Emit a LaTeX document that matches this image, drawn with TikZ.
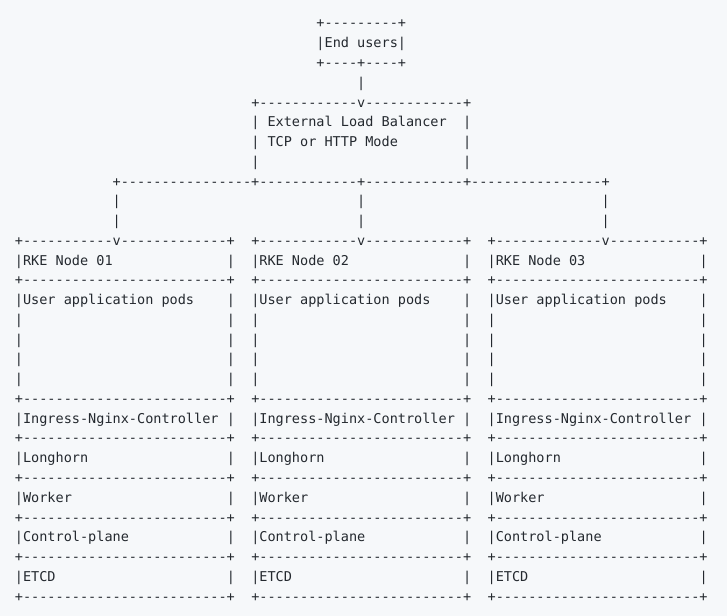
\documentclass[tikz,border=0pt]{standalone}
\usepackage{fontspec}
\setmonofont{DejaVu Sans Mono}

\definecolor{bgcol}{HTML}{F6F8FA}
\definecolor{txtcol}{HTML}{24292F}

% a run of n dashes
\newcommand\dashes[1]{\foreach\k in {1,...,#1}{-}}

\begin{document}
\begin{tikzpicture}[x=0.75pt,y=-0.75pt,
  ascii/.style={anchor=base west, inner sep=0pt, outer sep=0pt, text=txtcol,
    font=\ttfamily\fontsize{10.15pt}{14.8pt}\selectfont}]

  % Define grid of the character cells
  \def\cw{8.15}  % column width
  \def\lh{19.76} % line height
  \def\xo{14.9}
  \def\yo{28}

  % one text cell at column #2, line #3
  \newcommand\asciicell[4]{\node[ascii] (#1) at ({\xo+\cw*#2},{\yo+\lh*#3}) {#4};}

  \fill[bgcol] (0,0) rectangle (727,616);
  \useasboundingbox (0,0) rectangle (727,616);

  % End users box
  \asciicell{eu-top}{37}{0}{+\dashes{9}+}
  \asciicell{eu-txt}{37}{1}{|End users|}
  \asciicell{eu-bot}{37}{2}{+\dashes{4}+\dashes{4}+}
  \asciicell{eu-link}{42}{3}{|}

  % Load balancer box
  \asciicell{lb-top}{29}{4}{+\dashes{12}v\dashes{12}+}
  \asciicell{lb-txt1}{29}{5}{| External Load Balancer}
  \asciicell{lb-txt1r}{55}{5}{|}
  \asciicell{lb-txt2}{29}{6}{| TCP or HTTP Mode}
  \asciicell{lb-txt2r}{55}{6}{|}
  \asciicell{lb-txt3}{29}{7}{|}
  \asciicell{lb-txt3r}{55}{7}{|}

  % Split to the three nodes
  \asciicell{split}{12}{8}{+\dashes{16}+\dashes{12}+\dashes{12}+\dashes{16}+}
  \foreach \r in {9,10} {
    \foreach \c in {12,42,72} {
      \asciicell{drop-\c-\r}{\c}{\r}{|}
    }
  }

  % Draw the three RKE node boxes
  \foreach \n/\bx/\vx in {1/0/12, 2/29/42, 3/58/72} {
    \pgfmathtruncatemacro\da{\vx-\bx-1}
    \pgfmathtruncatemacro\db{24-\da}
    \pgfmathtruncatemacro\rx{\bx+26}
    \asciicell{n\n-top}{\bx}{11}{+\dashes{\da}v\dashes{\db}+}
    \foreach \r/\t in {12/RKE Node 0\n, 14/User application pods,
        20/Ingress-Nginx-Controller, 22/Longhorn, 24/Worker,
        26/Control-plane, 28/ETCD} {
      \asciicell{n\n-r\r-l}{\bx}{\r}{|\t}
      \asciicell{n\n-r\r-r}{\rx}{\r}{|}
    }
    \foreach \r in {15,...,18} {
      \asciicell{n\n-r\r-l}{\bx}{\r}{|}
      \asciicell{n\n-r\r-r}{\rx}{\r}{|}
    }
    \foreach \r in {13,19,21,23,25,27,29} {
      \asciicell{n\n-sep\r}{\bx}{\r}{+\dashes{25}+}
    }
  }
\end{tikzpicture}
\end{document}
